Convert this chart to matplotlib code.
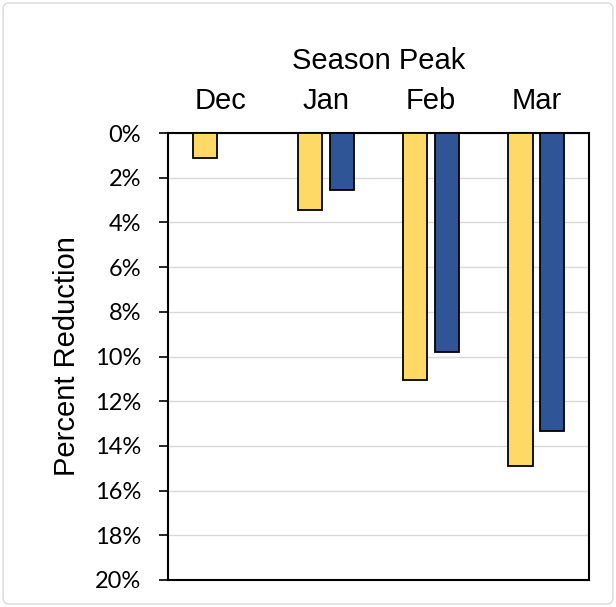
import numpy as np
import matplotlib.pyplot as plt
from matplotlib.patches import FancyBboxPatch

plt.rcParams['font.family'] = ['Liberation Sans', 'DejaVu Sans']

months = ['Dec', 'Jan', 'Feb', 'Mar']
yellow_vals = [1.1, 3.45, 11.05, 14.9]
blue_vals = [0.0, 2.55, 9.8, 13.33]
pct_ticks = list(range(0, 21, 2))

fig = plt.figure(figsize=(6.16, 6.07), dpi=100)
ax = fig.add_axes([168 / 616, 1 - 580 / 607, 421 / 616, 447 / 607])

x = np.arange(len(months))
w = 0.23
ax.bar(x - 0.15, yellow_vals, w, color='#FFD966', edgecolor='black', linewidth=1.3, zorder=3)
ax.bar(x + 0.15, blue_vals, w, color='#2F5597', edgecolor='black', linewidth=1.3, zorder=3)

ax.set_xlim(-0.5, 3.5)
ax.set_ylim(20, 0)
ax.set_yticks(pct_ticks)
ax.set_yticklabels([f'{v}%' for v in pct_ticks], fontsize=17, family=['Lato', 'DejaVu Sans'])
ax.xaxis.tick_top()
ax.set_xticks(x)
ax.set_xticklabels(months, fontsize=21)
ax.tick_params(axis='x', length=0, pad=13)
ax.tick_params(axis='y', length=6.5, width=1.2, pad=13)
ax.xaxis.set_label_position('top')
ax.set_xlabel('Season Peak', fontsize=21, labelpad=13)
ax.set_ylabel('Percent Reduction', fontsize=21, labelpad=10)
ax.grid(axis='y', color='#d9d9d9', linewidth=1, zorder=0)
for s in ax.spines.values():
    s.set_linewidth(1.5)
    s.set_color('black')

fig.patches.append(FancyBboxPatch((0.005, 0.005), 0.99, 0.99, boxstyle='round,pad=0,rounding_size=0.01',
                                  transform=fig.transFigure, facecolor='none', edgecolor='#d9d9d9', linewidth=1))

fig.savefig('out.png', dpi=100)
